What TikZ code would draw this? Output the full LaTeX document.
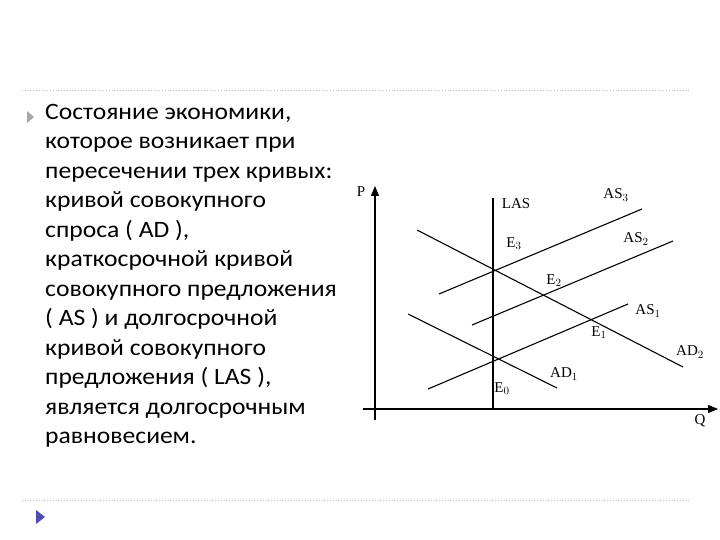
\documentclass[tikz,border=0pt]{standalone}
\usepackage{fontspec}
\setmainfont{Carlito}[FakeStretch=1.09]
\newfontfamily\tnr{Liberation Serif}
\usetikzlibrary{arrows.meta}
\begin{document}
\begin{tikzpicture}[x=1pt,y=-1pt,
  curve/.style={line width=1.1pt},
  lbl/.style={font=\tnr\fontsize{15}{15}\selectfont,inner sep=0pt},
  txt/.style={font=\fontsize{23.5}{29.5}\selectfont,align=left,anchor=north west,inner sep=0pt},
  sep/.style={draw=gray!50,dotted,line width=0.8pt}]
\useasboundingbox (0,0) rectangle (720,540);
\draw[sep] (22,90) -- (690,90);
\draw[sep] (22,500) -- (690,500);
\fill[gray!70] (27,111) -- (34,117) -- (27,123) -- cycle;
\fill[blue!40!gray] (36,510) -- (45,517) -- (36,524) -- cycle;
\node[txt] (t) at (45,104) {Состояние экономики,\\которое возникает при\\пересечении трех кривых:\\кривой совокупного\\спроса ( AD ),\\краткосрочной кривой\\совокупного предложения\\( AS ) и долгосрочной\\кривой совокупного\\предложения ( LAS ),\\является долгосрочным\\равновесием.};
% axes
\coordinate (o1) at (375,420); \coordinate (pt) at (375,186);
\coordinate (q0) at (363,409); \coordinate (qt) at (718,409);
\draw[curve,-{Triangle[length=10pt,width=8pt]}] (o1) -- (pt);
\draw[curve,-{Triangle[length=10pt,width=8pt]}] (q0) -- (qt);
\node[lbl] (P) at (361,192) {P};
\node[lbl] (Q) at (700,421) {Q};
% curves
\coordinate (las0) at (493,409); \coordinate (las1) at (493,198);
\draw[curve] (las0) -- (las1);
\coordinate (a3a) at (439,294); \coordinate (a3b) at (642,209);
\draw[curve] (a3a) -- (a3b);
\coordinate (a2a) at (472,325); \coordinate (a2b) at (673,241);
\draw[curve] (a2a) -- (a2b);
\coordinate (a1a) at (428,389); \coordinate (a1b) at (628,304);
\draw[curve] (a1a) -- (a1b);
\coordinate (d2a) at (417,230); \coordinate (d2b) at (683,367);
\draw[curve] (d2a) -- (d2b);
\coordinate (d1a) at (408,314); \coordinate (d1b) at (557,388);
\draw[curve] (d1a) -- (d1b);
% labels
\node[lbl] (LAS) at (516,204) {LAS};
\node[lbl] (AS3) at (616,195) {AS$_3$};
\node[lbl] (AS2) at (636,239) {AS$_2$};
\node[lbl] (AS1) at (648,311) {AS$_1$};
\node[lbl] (AD2) at (690,352) {AD$_2$};
\node[lbl] (AD1) at (564,374) {AD$_1$};
\node[lbl] (E3) at (514,244) {E$_3$};
\node[lbl] (E2) at (554,281) {E$_2$};
\node[lbl] (E1) at (599,333) {E$_1$};
\node[lbl] (E0) at (502,389) {E$_0$};
\end{tikzpicture}
\end{document}
